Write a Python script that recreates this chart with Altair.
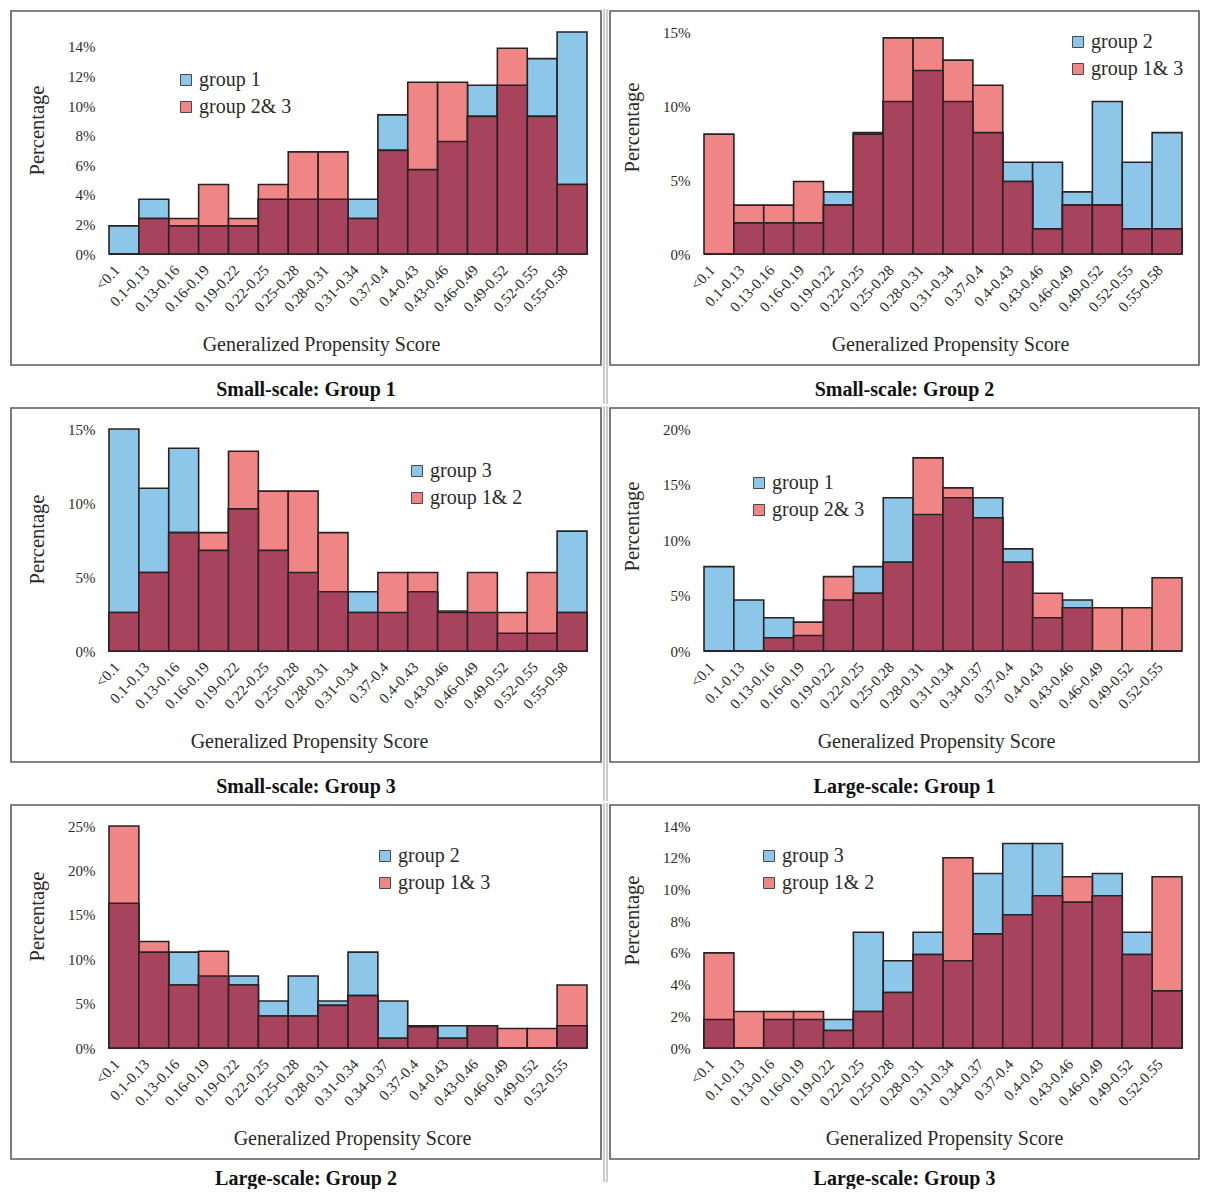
import altair as alt
import pandas as pd

# ---------------- data (percentages) ----------------
cats_small = ["<0.1", "0.1-0.13", "0.13-0.16", "0.16-0.19", "0.19-0.22", "0.22-0.25",
              "0.25-0.28", "0.28-0.31", "0.31-0.34", "0.37-0.4", "0.4-0.43", "0.43-0.46",
              "0.46-0.49", "0.49-0.52", "0.52-0.55", "0.55-0.58"]
cats_large = ["<0.1", "0.1-0.13", "0.13-0.16", "0.16-0.19", "0.19-0.22", "0.22-0.25",
              "0.25-0.28", "0.28-0.31", "0.31-0.34", "0.34-0.37", "0.37-0.4", "0.4-0.43",
              "0.43-0.46", "0.46-0.49", "0.49-0.52", "0.52-0.55"]

# Small-scale: Group 1
ss1_group1 = [1.9, 3.7, 1.9, 1.9, 1.9, 3.7, 3.7, 3.7, 3.7, 9.4, 5.7, 7.6, 11.4, 11.4, 13.2, 15.0]
ss1_group23 = [0.0, 2.4, 2.4, 4.7, 2.4, 4.7, 6.9, 6.9, 2.4, 7.0, 11.6, 11.6, 9.3, 13.9, 9.3, 4.7]
# Small-scale: Group 2
ss2_group2 = [0.0, 2.1, 2.1, 2.1, 4.2, 8.1, 10.3, 12.4, 10.3, 8.2, 6.2, 6.2, 4.2, 10.3, 6.2, 8.2]
ss2_group13 = [8.1, 3.3, 3.3, 4.9, 3.3, 8.2, 14.6, 14.6, 13.1, 11.4, 4.9, 1.7, 3.3, 3.3, 1.7, 1.7]
# Small-scale: Group 3
ss3_group3 = [15.0, 11.0, 13.7, 6.8, 9.6, 6.8, 5.3, 4.0, 4.0, 2.6, 4.0, 2.6, 2.6, 1.2, 1.2, 8.1]
ss3_group12 = [2.6, 5.3, 8.0, 8.0, 13.5, 10.8, 10.8, 8.0, 2.6, 5.3, 5.3, 2.7, 5.3, 2.6, 5.3, 2.6]
# Large-scale: Group 1
ls1_group1 = [7.6, 4.6, 3.0, 1.4, 4.6, 7.6, 13.8, 12.3, 13.8, 13.8, 9.2, 3.0, 4.6, 0.0, 0.0, 0.0]
ls1_group23 = [0.0, 0.0, 1.2, 2.6, 6.7, 5.2, 8.0, 17.4, 14.7, 12.0, 8.0, 5.2, 3.9, 3.9, 3.9, 6.6]
# Large-scale: Group 2
ls2_group2 = [16.3, 10.8, 10.8, 8.1, 8.1, 5.3, 8.1, 5.3, 10.8, 5.3, 2.5, 2.5, 2.5, 0.0, 0.0, 2.5]
ls2_group13 = [25.0, 12.0, 7.1, 10.9, 7.1, 3.6, 3.6, 4.8, 5.9, 1.1, 2.4, 1.1, 2.5, 2.2, 2.2, 7.1]
# Large-scale: Group 3
ls3_group3 = [1.8, 0.0, 1.8, 1.8, 1.8, 7.3, 5.5, 7.3, 5.5, 11.0, 12.9, 12.9, 9.2, 11.0, 7.3, 3.6]
ls3_group12 = [6.0, 2.3, 2.3, 2.3, 1.1, 2.3, 3.5, 5.9, 12.0, 7.2, 8.4, 9.6, 10.8, 9.6, 5.9, 10.8]

panel_titles = ["Small-scale: Group 1", "Small-scale: Group 2", "Small-scale: Group 3",
                "Large-scale: Group 1", "Large-scale: Group 2", "Large-scale: Group 3"]

# ---------------- style ----------------
W, H = 478, 222
BLUE = "#8cc6e8"
RED = "#f08585"
DARK = "#a8435e"
EDGE = "#2a2222"
FRAME = "#5a5a5a"
FONT = "Liberation Serif"
TXT = "#2a2a2a"


def panel(cats, blue, red, blue_name, red_name, title, ymax, yticks, leg_xy, col,
          xt_x, yt_y, last=False):
    df = pd.DataFrame({"cat": cats, "blue": blue, "red": red,
                       "gb": [blue_name] * len(cats), "gr": [red_name] * len(cats)})
    yscale = alt.Scale(domain=[0, ymax], nice=False, zero=True)
    xscale = alt.Scale(paddingInner=0, paddingOuter=0)
    xaxis = alt.Axis(title="Generalized Propensity Score", labelAngle=-47, labelOverlap=False,
                     labelAlign="right", labelBaseline="middle",
                     ticks=False, domain=False, grid=False, labelPadding=13, labelOffset=-7,
                     labelFontSize=15, titleFontSize=20, titleX=xt_x, titleY=90,
                     titleAlign="center", titleBaseline="middle")
    yaxis = alt.Axis(title="Percentage", values=yticks, labelExpr="datum.value + '%'",
                     ticks=False, domain=False, grid=False, labelPadding=14,
                     labelFontSize=15, titleFontSize=20.5, titleX=-72, titleY=yt_y,
                     titleAlign="center", titleBaseline="middle", titleAngle=270)
    cscale = alt.Scale(domain=[blue_name, red_name], range=[BLUE, RED])
    legend = alt.Legend(title=None, orient="none", legendX=leg_xy[0], legendY=leg_xy[1],
                        symbolType="square", symbolSize=121, symbolStrokeColor="#4a4a4a",
                        symbolStrokeWidth=1, labelFont=FONT, labelFontSize=20,
                        labelColor=TXT, rowPadding=7, labelOffset=3, padding=0)

    xenc = alt.X("cat:N", sort=cats, scale=xscale, axis=xaxis)
    base = alt.Chart(df)
    bar_blue = base.mark_bar(stroke=EDGE, strokeWidth=1.6).encode(
        x=xenc,
        y=alt.Y("blue:Q", scale=yscale, axis=yaxis),
        color=alt.Color("gb:N", scale=cscale, legend=legend),
    )
    bar_red = base.mark_bar(stroke=EDGE, strokeWidth=1.6).encode(
        x=xenc,
        y=alt.Y("red:Q", scale=yscale, axis=yaxis),
        color=alt.Color("gr:N", scale=cscale, legend=legend),
    )
    bar_ov = base.transform_calculate(ov="min(datum.blue, datum.red)").mark_bar(
        stroke=EDGE, strokeWidth=1.6, color=DARK).encode(
        x=xenc,
        y=alt.Y("ov:Q", scale=yscale, axis=yaxis),
    )

    one = pd.DataFrame({"t": [title]})
    if col == 0:
        fx1, fx2, sep = -98, W + 14, W + 17
    else:
        fx1, fx2, sep = -94, W + 17, -97
    rule_end = 356 if last else 372
    title_y = H + 131 if last else H + 136
    frame = alt.Chart(one).mark_rect(fill="white", fillOpacity=0, stroke=FRAME,
                                     strokeWidth=1.6).encode(
        x=alt.value(fx1), x2=alt.value(fx2), y=alt.value(-21), y2=alt.value(H + 111))
    rule = alt.Chart(one).mark_rule(color="#9a9a9a", strokeWidth=1).encode(
        x=alt.value(sep), y=alt.value(-23), y2=alt.value(rule_end))
    ttl = alt.Chart(one).mark_text(font=FONT, fontSize=20, fontWeight="bold", color="#111",
                                   align="center", baseline="middle").encode(
        x=alt.value((fx1 + fx2) / 2), y=alt.value(title_y), text="t:N")

    return alt.layer(frame, rule, bar_blue, bar_red, bar_ov, ttl).properties(
        width=W, height=H)


p1 = panel(cats_small, ss1_group1, ss1_group23, "group 1", "group 2& 3", panel_titles[0],
           15, [0, 2, 4, 6, 8, 10, 12, 14], (67, 38), 0, 212, 98)
p2 = panel(cats_small, ss2_group2, ss2_group13, "group 2", "group 1& 3", panel_titles[1],
           15, [0, 5, 10, 15], (364, 0), 1, 246, 95)
p3 = panel(cats_small, ss3_group3, ss3_group12, "group 3", "group 1& 2", panel_titles[2],
           15, [0, 5, 10, 15], (298, 32), 0, 200, 110)
p4 = panel(cats_large, ls1_group1, ls1_group23, "group 1", "group 2& 3", panel_titles[3],
           20, [0, 5, 10, 15, 20], (45, 44), 1, 232, 97)
p5 = panel(cats_large, ls2_group2, ls2_group13, "group 2", "group 1& 3", panel_titles[4],
           25, [0, 5, 10, 15, 20, 25], (266, 20), 0, 243, 90, last=True)
p6 = panel(cats_large, ls3_group3, ls3_group12, "group 3", "group 1& 2", panel_titles[5],
           14, [0, 2, 4, 6, 8, 10, 12, 14], (55, 20), 1, 240, 94, last=True)


def row(a, b):
    return alt.hconcat(a, b, spacing=1).resolve_scale(
        color="independent", x="independent", y="independent")


chart = alt.vconcat(row(p1, p2), row(p3, p4), row(p5, p6), spacing=0).resolve_scale(
    color="independent", x="independent", y="independent"
).properties(
    padding={"left": 2, "top": 0, "right": 0, "bottom": 0},
    background="white",
).configure_view(stroke=None).configure_axis(
    labelFont=FONT, titleFont=FONT, labelColor=TXT, titleColor=TXT, titleFontWeight="normal"
)

chart.save("out.html", embed_options={"renderer": "svg", "actions": False})
